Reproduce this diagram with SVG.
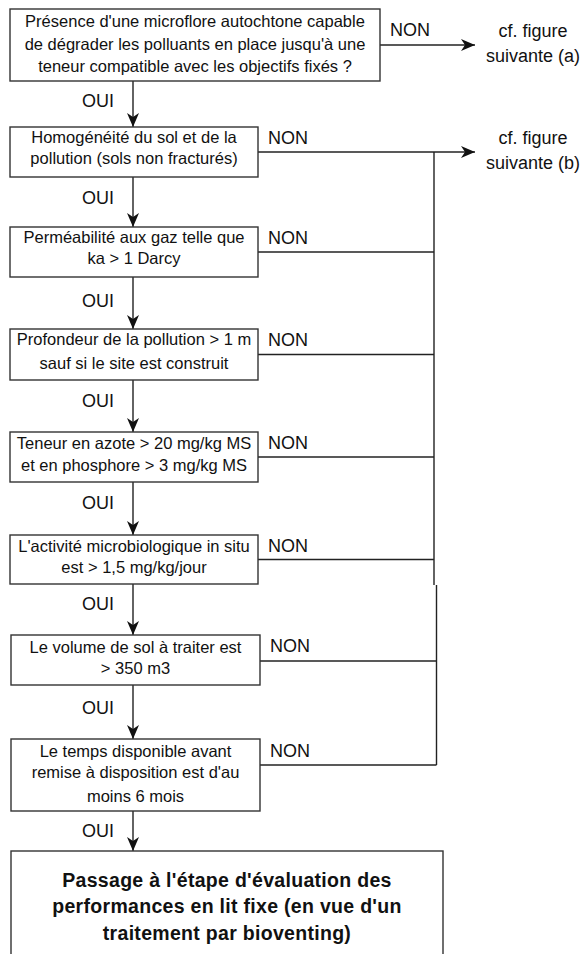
<svg xmlns="http://www.w3.org/2000/svg" width="582" height="954" viewBox="0 0 582 954">
<defs>
<style>
.box{fill:#fff;stroke:#333;stroke-width:1.4}
.t{font-family:"Liberation Sans",Arial,sans-serif;font-size:16.5px;fill:#111;text-anchor:middle}
.lbl{font-family:"Liberation Sans",Arial,sans-serif;font-size:18px;fill:#111}
.ref{font-family:"Liberation Sans",Arial,sans-serif;font-size:18px;fill:#111;text-anchor:middle}
.b{font-family:"Liberation Sans",Arial,sans-serif;font-size:19.5px;font-weight:bold;fill:#111;text-anchor:middle;letter-spacing:0.3px}
.ln{fill:none;stroke:#222;stroke-width:1.4}
</style>
<marker id="ah" viewBox="0 0 14 12" markerWidth="14" markerHeight="12" refX="14" refY="6" orient="auto" markerUnits="userSpaceOnUse">
<path d="M0,0 L14,6 L0,12 L4,6 Z" fill="#111"/>
</marker>
</defs>
<rect width="582" height="954" fill="#fff"/>

<g id="connectors">
<line class="ln" x1="133" y1="81" x2="133" y2="127" marker-end="url(#ah)"/>
<line class="ln" x1="133" y1="177" x2="133" y2="227" marker-end="url(#ah)"/>
<line class="ln" x1="133" y1="277" x2="133" y2="329" marker-end="url(#ah)"/>
<line class="ln" x1="133" y1="380" x2="133" y2="432" marker-end="url(#ah)"/>
<line class="ln" x1="133" y1="482" x2="133" y2="535" marker-end="url(#ah)"/>
<line class="ln" x1="133" y1="584" x2="133" y2="635" marker-end="url(#ah)"/>
<line class="ln" x1="133" y1="685" x2="133" y2="739" marker-end="url(#ah)"/>
<line class="ln" x1="133" y1="811" x2="133" y2="851" marker-end="url(#ah)"/>
<line class="ln" x1="380" y1="45" x2="475" y2="45" marker-end="url(#ah)"/>
<line class="ln" x1="258" y1="152" x2="475" y2="152" marker-end="url(#ah)"/>
<line class="ln" x1="434" y1="152" x2="434" y2="585"/>
<line class="ln" x1="436.5" y1="585" x2="436.5" y2="765"/>
<line class="ln" x1="258" y1="252" x2="434" y2="252"/>
<line class="ln" x1="258" y1="354.5" x2="434" y2="354.5"/>
<line class="ln" x1="258" y1="457" x2="434" y2="457"/>
<line class="ln" x1="258" y1="559.5" x2="434" y2="559.5"/>
<line class="ln" x1="260" y1="661" x2="436.5" y2="661"/>
<line class="ln" x1="260" y1="765" x2="436.5" y2="765"/>
<text class="lbl" x="390" y="36">NON</text>
<text class="lbl" x="268" y="143.5">NON</text>
<text class="lbl" x="268" y="243.5">NON</text>
<text class="lbl" x="268" y="345.5">NON</text>
<text class="lbl" x="268" y="449">NON</text>
<text class="lbl" x="268" y="552">NON</text>
<text class="lbl" x="270" y="652">NON</text>
<text class="lbl" x="270" y="757">NON</text>
<text class="lbl" x="82" y="106.5">OUI</text>
<text class="lbl" x="82" y="203.5">OUI</text>
<text class="lbl" x="82" y="306.5">OUI</text>
<text class="lbl" x="82" y="406.5">OUI</text>
<text class="lbl" x="82" y="509">OUI</text>
<text class="lbl" x="82" y="609.5">OUI</text>
<text class="lbl" x="82" y="713.5">OUI</text>
<text class="lbl" x="82" y="836.5">OUI</text>
</g>

<g id="ref-a">
<text class="ref" x="533" y="36.5">cf. figure</text>
<text class="ref" x="533" y="61.5">suivante (a)</text>
</g>
<g id="ref-b">
<text class="ref" x="533" y="143.5">cf. figure</text>
<text class="ref" x="533" y="168.5">suivante (b)</text>
</g>

<g id="n1">
<rect class="box" x="10" y="9" width="370" height="72"/>
<text class="t" x="195" y="27">Présence d'une microflore autochtone capable</text>
<text class="t" x="195" y="50">de dégrader les polluants en place jusqu'à une</text>
<text class="t" x="195" y="72">teneur compatible avec les objectifs fixés ?</text>
</g>
<g id="n2">
<rect class="box" x="10" y="127" width="248" height="50"/>
<text class="t" x="134" y="142.5">Homogénéité du sol et de la</text>
<text class="t" x="134" y="164">pollution (sols non fracturés)</text>
</g>
<g id="n3">
<rect class="box" x="10" y="227" width="248" height="50"/>
<text class="t" x="134" y="242.5">Perméabilité aux gaz telle que</text>
<text class="t" x="134" y="264">ka &gt; 1 Darcy</text>
</g>
<g id="n4">
<rect class="box" x="10" y="329" width="248" height="51"/>
<text class="t" x="134" y="345">Profondeur de la pollution &gt; 1 m</text>
<text class="t" x="134" y="368.5">sauf si le site est construit</text>
</g>
<g id="n5">
<rect class="box" x="10" y="432" width="248" height="50"/>
<text class="t" x="134" y="449">Teneur en azote &gt; 20 mg/kg MS</text>
<text class="t" x="134" y="471">et en phosphore &gt; 3 mg/kg MS</text>
</g>
<g id="n6">
<rect class="box" x="10" y="535" width="248" height="49"/>
<text class="t" x="134" y="551.5">L'activité microbiologique in situ</text>
<text class="t" x="134" y="573">est &gt; 1,5 mg/kg/jour</text>
</g>
<g id="n7">
<rect class="box" x="11" y="635" width="249" height="50"/>
<text class="t" x="135.5" y="652.5">Le volume de sol à traiter est</text>
<text class="t" x="135.5" y="674">&gt; 350 m3</text>
</g>
<g id="n8">
<rect class="box" x="11" y="739" width="249" height="72"/>
<text class="t" x="135.5" y="756.5">Le temps disponible avant</text>
<text class="t" x="135.5" y="778">remise à disposition est d'au</text>
<text class="t" x="135.5" y="801.5">moins 6 mois</text>
</g>
<g id="n9">
<rect class="box" x="11" y="851" width="432" height="130"/>
<text class="b" x="227" y="887">Passage à l'étape d'évaluation des</text>
<text class="b" x="227" y="913">performances en lit fixe (en vue d'un</text>
<text class="b" x="227" y="940">traitement par bioventing)</text>
</g>
</svg>
